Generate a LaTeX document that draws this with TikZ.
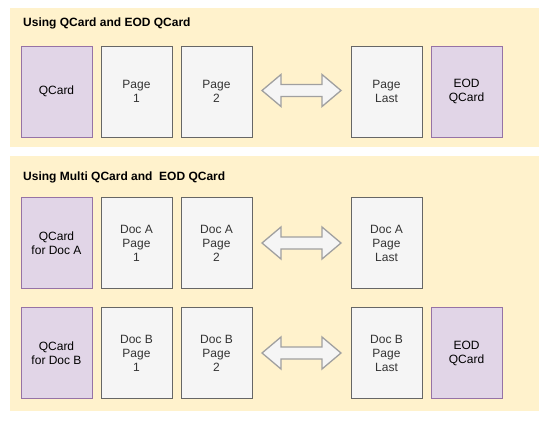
\documentclass[tikz,border=0pt]{standalone}
\usepackage{fontspec}
\setmainfont{Liberation Sans}
\definecolor{panelfill}{HTML}{FFF2CC}
\definecolor{purplefill}{HTML}{E1D5E7}
\definecolor{purpleline}{HTML}{9673A6}
\definecolor{grayfill}{HTML}{F5F5F5}
\definecolor{grayline}{HTML}{666666}
\definecolor{graytext}{HTML}{333333}
\definecolor{arrowline}{HTML}{A0A0A0}
\begin{document}
\begin{tikzpicture}[x=1pt,y=-1pt,
  panel/.style={fill=panelfill,draw=none},
  card/.style={draw,line width=0.9pt,minimum width=71pt,minimum height=91pt,inner sep=0pt,align=center,
     font=\fontsize{12}{14}\selectfont},
  qcard/.style={card,fill=purplefill,draw=purpleline,text=black},
  pagecard/.style={card,fill=grayfill,draw=grayline,text=graytext},
  title/.style={anchor=west,font=\fontsize{12}{14}\selectfont\bfseries,inner sep=0pt},
  bigarrow/.style={fill=grayfill,draw=arrowline,line width=1.3pt,line join=miter}]
\useasboundingbox (0,0) rectangle (548,428);
\fill[white] (0,0) rectangle (548,428);
% panels
\path[panel] (10,8) rectangle (539,147);
\path[panel] (10,156) rectangle (539,411);
\node[title] (t1) at (23,23) {Using QCard and EOD QCard};
\node[title] (t2) at (23,177) {Using Multi QCard and\ \ EOD QCard};
% row 1
\node[qcard] (q1) at (56.5,91.5) {QCard};
\node[pagecard] (p11) at (136.5,91.5) {Page\\1};
\node[pagecard] (p12) at (216.5,91.5) {Page\\2};
\node[pagecard] (p1l) at (386.5,91.5) {Page\\Last};
\node[qcard] (e1) at (466.5,91.5) {EOD\\QCard};
% row 2
\node[qcard] (q2) at (56.5,243) {QCard\\for Doc A};
\node[pagecard] (p21) at (136.5,243) {Doc A\\Page\\1};
\node[pagecard] (p22) at (216.5,243) {Doc A\\Page\\2};
\node[pagecard] (p2l) at (386.5,243) {Doc A\\Page\\Last};
% row 3
\node[qcard] (q3) at (56.5,353) {QCard\\for Doc B};
\node[pagecard] (p31) at (136.5,353) {Doc B\\Page\\1};
\node[pagecard] (p32) at (216.5,353) {Doc B\\Page\\2};
\node[pagecard] (p3l) at (386.5,353) {Doc B\\Page\\Last};
\node[qcard] (e3) at (466.5,353) {EOD\\QCard};
% double arrows
\foreach \c in {90.5,243,353}{
  \draw[bigarrow] (262,\c) -- (281,\c-16) -- (281,\c-6) -- (322,\c-6) -- (322,\c-16) -- (341,\c)
    -- (322,\c+16) -- (322,\c+6) -- (281,\c+6) -- (281,\c+16) -- cycle;
}
\end{tikzpicture}
\end{document}
